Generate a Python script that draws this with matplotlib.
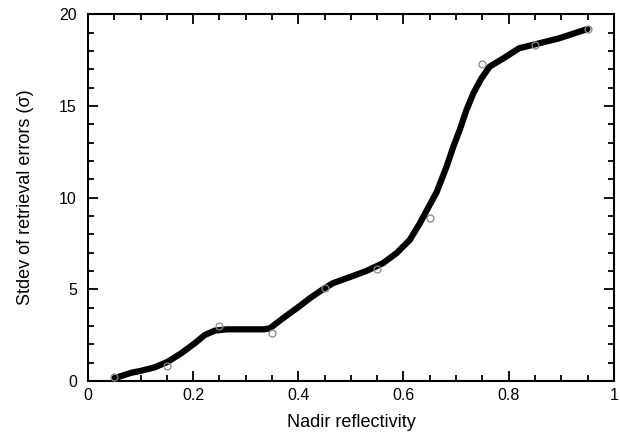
import numpy as np
import matplotlib.pyplot as plt
from matplotlib.ticker import MultipleLocator

plt.rcParams['font.family'] = ['Liberation Sans', 'DejaVu Sans']

# curve
curve_x = [0.05, 0.082, 0.101, 0.127, 0.152, 0.177, 0.203, 0.222, 0.241, 0.263,
           0.335, 0.346, 0.371, 0.397, 0.422, 0.447, 0.466, 0.498, 0.53, 0.561,
           0.587, 0.612, 0.631, 0.645, 0.663, 0.682, 0.695, 0.707, 0.72, 0.733,
           0.748, 0.764, 0.79, 0.82, 0.85, 0.897, 0.95]
curve_y = [0.15, 0.45, 0.56, 0.75, 1.06, 1.51, 2.06, 2.51, 2.75, 2.82,
           2.82, 2.88, 3.43, 3.97, 4.52, 5.01, 5.34, 5.67, 6.01, 6.43,
           6.98, 7.7, 8.6, 9.35, 10.3, 11.7, 12.8, 13.7, 14.8, 15.7,
           16.5, 17.15, 17.6, 18.15, 18.36, 18.7, 19.2]

# sample points (open circles)
pts_x = [0.05, 0.15, 0.25, 0.35, 0.45, 0.55, 0.65, 0.75, 0.85, 0.95]
pts_y = [0.2, 0.8, 3.0, 2.6, 5.1, 6.1, 8.9, 17.3, 18.3, 19.2]

fig = plt.figure(figsize=(6.2, 4.34), dpi=100)
ax = fig.add_axes([0.142, 0.122, 0.848, 0.845])

ax.plot(curve_x, curve_y, color='black', lw=4.5, solid_joinstyle='round',
        solid_capstyle='round', zorder=2)
ax.plot(pts_x, pts_y, 'o', ms=5, mfc='none', mec='#888888', mew=0.9, zorder=3)

ax.set_xlim(0, 1)
ax.set_ylim(0, 20)
ax.xaxis.set_minor_locator(MultipleLocator(0.05))
ax.yaxis.set_major_locator(MultipleLocator(5))
ax.yaxis.set_minor_locator(MultipleLocator(1))
ax.set_xticks([0, 0.2, 0.4, 0.6, 0.8, 1])
ax.set_xticklabels(['0', '0.2', '0.4', '0.6', '0.8', '1'])

ax.tick_params(which='both', direction='in', top=True, right=True, width=1.3,
               labelsize=11.5)
ax.tick_params(which='major', length=7)
ax.tick_params(which='minor', length=4)
ax.tick_params(axis='x', pad=5)
ax.tick_params(axis='y', pad=8)
for s in ax.spines.values():
    s.set_linewidth(1.5)

ax.set_xlabel('Nadir reflectivity', fontsize=13, labelpad=8)
ax.set_ylabel('Stdev of retrieval errors (σ)', fontsize=13, labelpad=18)

fig.savefig('out.png', dpi=100)
